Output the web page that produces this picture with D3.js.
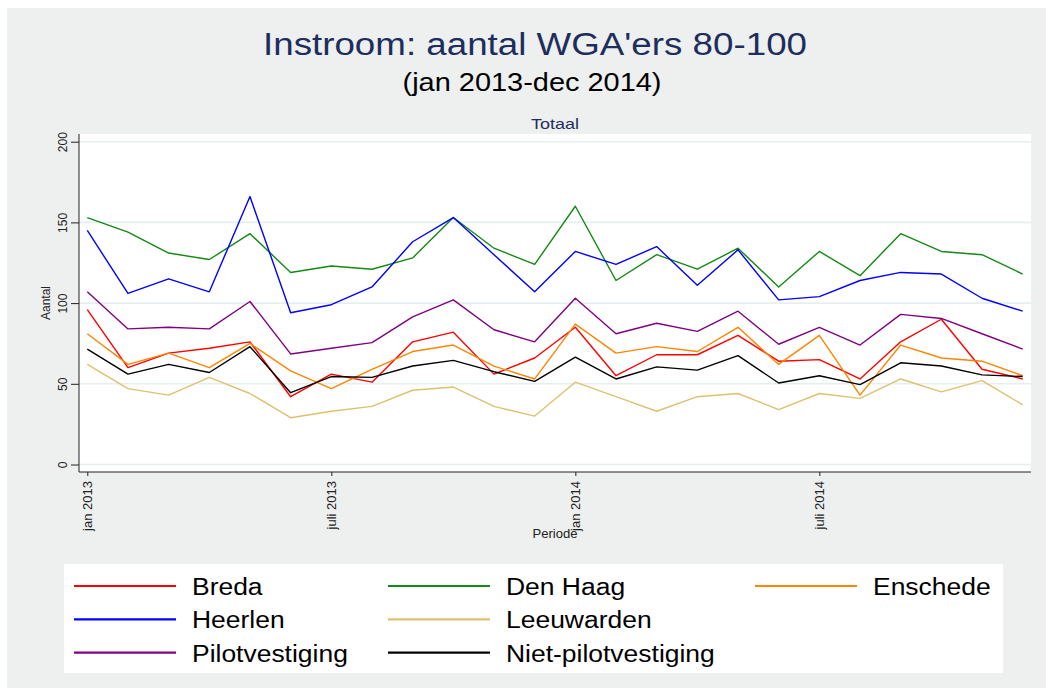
<!DOCTYPE html>
<meta charset="utf-8">
<head>
<script src="https://cdn.jsdelivr.net/npm/d3@7"></script>
</head>
<style>
  body { margin: 0; background: #fff; font-family: "Liberation Sans", Arial, sans-serif; }
  .grid line { stroke: #e6eff0; stroke-width: 1.6px; }
  .axis path, .axis line { stroke: #222; }
  .axis text { fill: #222; font-size: 12px; font-family: "Liberation Sans", Arial, sans-serif; }
</style>
<body></body>
<script>

var width = 1052,
    height = 691;

// data
var months = ["jan 2013","feb 2013","mrt 2013","apr 2013","mei 2013","jun 2013",
  "juli 2013","aug 2013","sep 2013","okt 2013","nov 2013","dec 2013",
  "jan 2014","feb 2014","mrt 2014","apr 2014","mei 2014","jun 2014",
  "juli 2014","aug 2014","sep 2014","okt 2014","nov 2014","dec 2014"];
var tickMonths = ["jan 2013","juli 2013","jan 2014","juli 2014"];
var yTicks = [0, 50, 100, 150, 200];

var breda      = [96,60,69,72,76,42,56,51,76,82,56,66,85,55,68,68,80,64,65,53,76,90,59,53];
var denHaag    = [153,144,131,127,143,119,123,121,128,153,134,124,160,114,130,121,134,110,132,117,143,132,130,118];
var enschede   = [81,62,69,60,75,58,47,59,70,74,61,53,87,69,73,70,85,62,80,43,74,66,64,55];
var heerlen    = [145,106,115,107,166,94,99,110,138,153,130,107,132,124,135,111,133,102,104,114,119,118,103,95];
var leeuwarden = [62,47,43,54,44,29,33,36,46,48,36,30,51,42,33,42,44,34,44,41,53,45,52,37];
var pilot      = [107,84,85,84,101,68.5,72,75.5,91.5,102,83.5,76,103,81,87.5,82.5,95,74.5,85,74,93,90.5,81,71.5];
var nietPilot  = [71.5,56,62,57,73,44.5,54.5,54,61,64.5,57.5,51.5,66.5,53,60.5,58.5,67.5,50.5,55,49.5,63,61,55.5,54.5];

var seriesNames  = ["Breda","Den Haag","Enschede","Heerlen","Leeuwarden","Pilotvestiging","Niet-pilotvestiging"];
var seriesValues = [breda, denHaag, enschede, heerlen, leeuwarden, pilot, nietPilot];
var seriesColors = ["#ff0000","#138a13","#ff8400","#0000ff","#dcc26e","#800080","#000000"];
// legend slot (column, row) of each series
var legendCol = [0, 1, 2, 0, 1, 0, 1];
var legendRow = [0, 0, 0, 1, 1, 2, 2];

var svg = d3.select("body").append("svg")
    .attr("width", width)
    .attr("height", height);

// graph region
svg.append("rect")
    .attr("x", 7).attr("y", 8)
    .attr("width", 1039).attr("height", 680)
    .attr("fill", "#eeefef");

var plotL = 79, plotR = 1031, plotT = 134, plotB = 472;

svg.append("rect")
    .attr("x", plotL).attr("y", plotT)
    .attr("width", plotR - plotL).attr("height", plotB - plotT)
    .attr("fill", "#fff");

var x = d3.scaleLinear()
    .domain([0, months.length - 1])
    .range([87.3, 1022.7]);

var y = d3.scaleLinear()
    .domain([0, 200])
    .range([464.5, 141.7]);

// gridlines
svg.append("g")
    .attr("class", "grid")
  .selectAll("line")
    .data(yTicks)
  .enter().append("line")
    .attr("x1", plotL).attr("x2", plotR)
    .attr("y1", function(d) { return y(d); })
    .attr("y2", function(d) { return y(d); });

// axes
var yAxis = svg.append("g")
    .attr("class", "axis")
    .attr("transform", "translate(" + plotL + ",0)")
    .call(d3.axisLeft(y).tickValues(yTicks).tickSize(8).tickSizeOuter(0));
yAxis.select(".domain").attr("d", "M0," + plotT + "V" + plotB);
yAxis.selectAll(".tick text")
    .attr("transform", "rotate(-90)")
    .attr("x", 0).attr("y", -12)
    .attr("dy", 0)
    .style("text-anchor", "middle")
    .style("font-size", "12px");

var xAxis = svg.append("g")
    .attr("class", "axis")
    .attr("transform", "translate(0," + plotB + ")")
    .call(d3.axisBottom(x)
      .tickValues(tickMonths.map(function(m) { return months.indexOf(m); }))
      .tickFormat(function(i) { return months[i]; })
      .tickSize(4).tickSizeOuter(0));
xAxis.select(".domain").attr("d", "M" + plotL + ",0H" + plotR);
xAxis.selectAll(".tick text")
    .attr("transform", "rotate(-90)")
    .attr("x", -9).attr("y", 0)
    .attr("dy", "0.35em")
    .style("text-anchor", "end")
    .style("font-size", "13px");

// axis titles
svg.append("text")
    .attr("transform", "translate(50,303) rotate(-90)")
    .attr("text-anchor", "middle")
    .style("font-size", "12px")
    .attr("fill", "#222")
    .text("Aantal");

svg.append("text")
    .attr("x", 555).attr("y", 538)
    .attr("text-anchor", "middle")
    .attr("textLength", 45).attr("lengthAdjust", "spacingAndGlyphs")
    .style("font-size", "13px")
    .attr("fill", "#222")
    .text("Periode");

// lines
var line = d3.line()
    .x(function(d, i) { return x(i); })
    .y(function(d) { return y(d); });

svg.append("g")
  .selectAll("path")
    .data(seriesValues)
  .enter().append("path")
    .attr("d", line)
    .attr("fill", "none")
    .attr("stroke", function(d, i) { return seriesColors[i]; })
    .attr("stroke-width", 1.4)
    .attr("stroke-linejoin", "round");

// titles
svg.append("text")
    .attr("x", 535).attr("y", 55)
    .attr("text-anchor", "middle")
    .attr("textLength", 544).attr("lengthAdjust", "spacingAndGlyphs")
    .style("font-size", "31px")
    .attr("fill", "#1d2e5e")
    .text("Instroom: aantal WGA'ers 80-100");

svg.append("text")
    .attr("x", 532).attr("y", 91)
    .attr("text-anchor", "middle")
    .attr("textLength", 259).attr("lengthAdjust", "spacingAndGlyphs")
    .style("font-size", "26px")
    .attr("fill", "#000")
    .text("(jan 2013-dec 2014)");

svg.append("text")
    .attr("x", 555).attr("y", 129)
    .attr("text-anchor", "middle")
    .attr("textLength", 48).attr("lengthAdjust", "spacingAndGlyphs")
    .style("font-size", "15px")
    .attr("fill", "#1d2e5e")
    .text("Totaal");

// legend
svg.append("rect")
    .attr("x", 64).attr("y", 564)
    .attr("width", 939).attr("height", 109)
    .attr("fill", "#fff");

var legendX = [74, 388, 755];
var legend = svg.selectAll(".legend")
    .data(seriesNames)
  .enter().append("g")
    .attr("class", "legend")
    .attr("transform", function(d, i) {
      return "translate(" + legendX[legendCol[i]] + "," + (586 + 33.3 * legendRow[i]) + ")";
    });

legend.append("line")
    .attr("x1", 0).attr("x2", 102)
    .attr("stroke", function(d, i) { return seriesColors[i]; })
    .attr("stroke-width", 2.2);

legend.append("text")
    .attr("x", 118)
    .attr("y", 9)
    .style("font-size", "23px")
    .attr("fill", "#000")
    .text(function(d) { return d; })
    .each(function() {
      var w = this.getComputedTextLength();
      d3.select(this).attr("textLength", w * 1.15).attr("lengthAdjust", "spacingAndGlyphs");
    });

</script>
</html>
